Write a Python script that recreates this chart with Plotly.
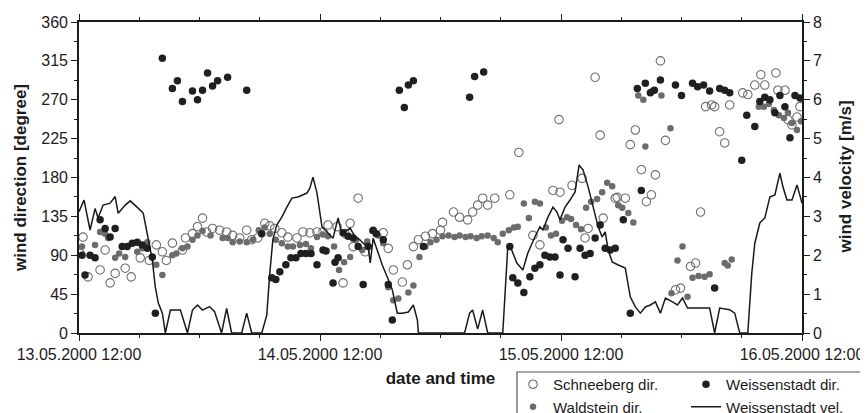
import pandas as pd
import plotly.graph_objects as go

START = pd.Timestamp("2000-05-13 12:00")

# ---- Weissenstadt wind velocity [m/s] (hours after 13.05.2000 12:00) ----
vel_hours = [0.0, 0.5, 1.1, 1.6, 1.9, 2.4, 3.1, 3.6, 3.9, 4.6, 5.1, 5.6, 6.1, 6.4, 6.8, 7.3, 7.6, 7.9, 8.3, 8.6,
             9.1, 10.1, 10.8, 11.3, 11.8, 12.3, 13.0, 13.5, 14.2, 14.7, 15.2, 16.2, 16.7, 17.2, 18.2, 18.7,
             19.0, 19.3, 19.7, 20.2, 20.7, 21.2, 21.8, 22.2, 22.7, 23.0, 23.3, 23.7, 24.2, 24.7, 25.3, 25.8,
             26.2, 26.5, 27.0, 27.5, 28.0, 28.3, 28.8, 29.0, 29.3, 29.7, 30.2, 30.7, 31.2, 31.7, 32.2, 32.8,
             33.3, 33.7, 33.8, 38.4, 38.9, 39.2, 39.7, 40.2, 40.7, 42.2, 42.7, 43.1, 43.6, 44.2, 44.7, 45.4,
             45.9, 46.2, 46.7, 47.2, 47.6, 47.9, 48.4, 48.9, 49.4, 49.8, 50.2, 50.7, 51.2, 51.7, 52.1, 52.4,
             52.7, 53.1, 53.7, 54.4, 54.9, 55.4, 55.9, 56.4, 56.9, 57.4, 57.9, 58.4, 59.1, 59.6, 60.1, 60.6,
             61.3, 62.0, 62.8, 63.3, 63.8, 64.8, 65.3, 65.8, 66.6, 67.0, 67.3, 67.8, 68.3, 68.8, 69.3, 69.8,
             70.1, 70.5, 71.0, 71.5, 72.0]
vel_ms = [3.12, 3.42, 2.65, 3.2, 2.96, 3.29, 3.34, 3.51, 3.08, 3.29, 3.40, 3.29, 3.16, 3.08, 2.57, 1.88, 1.18, 0.77, 0.51, 0.0,
          0.59, 0.59, 0.0, 0.59, 0.72, 0.59, 0.68, 0.55, 0.0, 0.63, 0.0, 0.0, 0.51, 0.0, 0.0, 0.46,
          1.54, 2.39, 2.78, 2.98, 3.24, 3.47, 3.5, 3.55, 3.6, 3.73, 4.01, 3.6, 2.73, 2.6, 2.44, 2.96,
          2.52, 2.6, 2.7, 2.47, 2.39, 2.31, 2.21, 1.80, 2.44, 2.13, 1.75, 1.44, 1.11, 0.51, 0.51, 0.54,
          0.72, 0.33, 0.0, 0.0, 0.51, 0.59, 0.1, 0.59, 0.0, 0.0, 2.21, 2.13, 1.80, 1.62, 2.06, 2.47,
          2.73, 2.65, 2.98, 3.24, 3.11, 2.91, 3.24, 3.42, 3.63, 4.32, 4.19, 3.76, 3.24, 2.73, 2.47, 2.60,
          2.13, 1.83, 1.75, 1.67, 0.93, 0.67, 0.51, 0.67, 0.72, 0.80, 0.51, 0.90, 0.80, 0.72, 0.90, 0.64,
          0.64, 0.64, 0.64, 0.0, 0.64, 0.60, 0.51, 0.0, 0.0, 1.54, 2.31, 2.83, 2.96, 3.5, 3.55, 4.11,
          3.76, 3.42, 3.42, 3.81, 3.34]

# ---- Schneeberg wind direction [degree] ----
sch_hours = [0.1, 0.4, 0.9, 2.1, 2.6, 3.1, 3.6, 4.6, 5.2, 6.1, 7.0, 7.7, 8.3, 8.7, 9.3, 10.3, 10.6, 11.3, 11.8, 12.3,
             12.7, 13.3, 14.0, 14.7, 15.3, 16.0, 16.7, 17.2, 17.8, 18.5, 19.0, 19.5, 20.2, 20.8, 21.7, 22.3, 23.0,
             23.7, 24.3, 24.8, 25.7, 26.3, 26.5, 27.0, 27.3, 27.8, 28.5, 30.3, 30.8, 31.3, 32.2, 32.7, 33.3, 33.8,
             34.5, 35.2, 36.0, 36.2, 37.3, 37.9, 38.7, 39.2, 39.7, 40.2, 40.7, 41.4, 42.9, 43.8, 45.2, 45.9, 47.2,
             47.8, 47.9, 49.1, 50.1, 50.4, 50.7, 51.4, 51.9, 52.2, 53.4, 53.6, 54.4, 54.9, 55.4, 56.0, 56.5, 57.0,
             57.4, 57.9, 58.4, 59.4, 59.9, 60.9, 61.4, 61.9, 62.4, 63.0, 63.3, 63.8, 64.3, 64.8, 66.1, 66.6, 67.3,
             67.9, 68.3, 69.4, 69.6, 70.3, 70.6, 71.0, 71.5, 71.8]
sch_deg = [92, 111, 65, 73, 96, 58, 69, 75, 65, 87, 84, 102, 94, 84, 104, 96, 110, 115, 123, 133,
           117, 121, 119, 117, 113, 110, 119, 108, 110, 127, 124, 121, 116, 111, 110, 117, 116,
           117, 117, 125, 123, 58, 115, 127, 100, 156, 94, 116, 98, 73, 59, 79, 100, 108,
           112, 115, 119, 128, 140, 134, 131, 140, 148, 156, 148, 156, 160, 209, 113, 102, 165,
           247, 163, 171, 179, 110, 121, 296, 229, 133, 156, 157, 156, 218, 235, 189, 152, 160,
           183, 315, 223, 50, 52, 77, 81, 140, 262, 264, 262, 233, 220, 264, 278, 276, 287,
           299, 287, 301, 281, 281, 247, 241, 250, 262]

# ---- Waldstein wind direction [degree] ----
wal_hours = [0.3, 1.6, 2.1, 2.6, 2.9, 3.6, 4.0, 4.6, 5.8, 6.3, 6.8, 7.7, 8.3, 9.3, 9.7, 10.3, 10.8, 11.3, 11.8, 12.3,
             13.1, 14.3, 14.8, 15.3, 16.0, 16.7, 17.3, 17.9, 18.5, 19.0, 19.6, 20.2, 20.8, 21.3, 22.0, 22.6, 23.1,
             23.7, 24.3, 24.8, 25.4, 25.9, 26.4, 27.0, 27.6, 28.2, 28.7, 29.2, 29.8, 30.3, 30.8, 31.3, 31.8, 32.8,
             33.3, 33.9, 34.5, 35.0, 35.6, 36.2, 36.8, 37.4, 37.9, 38.5, 39.0, 39.6, 40.1, 40.7, 41.3, 41.7, 42.2,
             42.8, 43.3, 43.7, 44.3, 44.8, 45.4, 45.9, 46.5, 47.0, 47.5, 48.1, 48.6, 49.0, 49.5, 50.0, 50.5, 51.0,
             51.6, 52.1, 52.6, 53.1, 53.7, 54.1, 54.7, 55.2, 55.7, 56.2, 56.4, 57.1, 58.0, 58.9, 59.0, 59.6, 60.1,
             60.6, 61.1, 61.7, 62.3, 62.8, 64.3, 64.6, 65.0, 67.7, 68.2, 68.7, 69.2, 69.7, 70.2, 70.6, 71.0, 71.5,
             71.9]
wal_deg = [100, 102, 117, 115, 110, 87, 92, 88, 94, 98, 105, 79, 67, 90, 92, 98, 100, 108, 113, 118,
           113, 110, 110, 105, 106, 105, 108, 119, 122, 115, 108, 104, 100, 100, 102, 103, 98,
           111, 114, 112, 100, 73, 82, 88, 108, 96, 106, 118, 113, 104, 53, 38, 40, 47,
           55, 88, 100, 105, 108, 112, 113, 111, 113, 111, 112, 110, 112, 113, 110, 105, 115,
           119, 122, 123, 150, 133, 152, 150, 122, 113, 115, 130, 134, 132, 125, 120, 145, 152,
           155, 163, 174, 170, 148, 145, 139, 128, 275, 270, 216, 280, 275, 237, 46, 84, 100,
           42, 64, 66, 65, 68, 81, 78, 85, 262, 262, 265, 258, 252, 249, 255, 243, 235,
           245]

# ---- Weissenstadt wind direction [degree] ----
wei_hours = [0.3, 0.6, 1.1, 1.6, 2.1, 2.6, 3.1, 3.6, 4.3, 4.8, 5.3, 5.8, 6.3, 6.8, 7.3, 7.6, 8.3, 9.3, 9.8, 10.3,
             11.3, 11.8, 12.3, 12.8, 13.3, 13.8, 14.8, 16.7, 18.2, 19.2, 19.6, 20.0, 20.6, 21.1, 21.6, 22.1, 22.6,
             23.1, 23.7, 24.3, 24.6, 25.3, 25.5, 25.8, 26.3, 26.8, 27.3, 27.8, 28.3, 28.8, 29.3, 29.6, 30.3, 30.8,
             31.2, 31.9, 32.4, 32.8, 33.3, 34.3, 38.9, 39.4, 40.3, 42.9, 43.2, 43.7, 44.3, 44.9, 45.4, 45.9, 46.4,
             46.9, 47.4, 47.9, 48.2, 48.7, 49.4, 49.9, 50.4, 50.9, 51.4, 51.9, 52.4, 52.9, 53.4, 54.2, 54.9, 55.6,
             56.0, 56.4, 56.9, 57.3, 57.9, 59.4, 60.0, 61.1, 61.6, 62.2, 62.8, 63.3, 63.8, 64.3, 64.8, 66.0, 66.5,
             67.3, 67.8, 68.3, 68.8, 69.3, 69.8, 70.3, 70.8, 71.3, 71.8]
wei_deg = [90, 67, 90, 87, 131, 121, 111, 121, 100, 100, 104, 105, 102, 98, 88, 23, 318, 283, 292, 268,
           280, 270, 281, 301, 286, 292, 296, 281, 115, 64, 62, 71, 79, 87, 87, 92, 92,
           92, 79, 96, 95, 58, 82, 87, 116, 112, 110, 100, 56, 100, 119, 115, 108, 56,
           15, 281, 261, 287, 292, 100, 273, 297, 302, 100, 64, 58, 47, 65, 75, 79, 90,
           88, 88, 67, 108, 98, 65, 98, 90, 92, 110, 125, 98, 96, 98, 131, 23, 283,
           165, 289, 278, 281, 293, 287, 275, 289, 285, 287, 280, 52, 283, 281, 278, 200, 252,
           239, 268, 273, 270, 255, 275, 262, 226, 275, 272]

# ---- axis ticks ----
tick_hours = [0, 12, 24, 36, 48, 60, 72]
tick_labels = ["13.05.2000 12:00", "", "14.05.2000 12:00", "", "15.05.2000 12:00", "", "16.05.2000 12:00"]
minor_hours = list(range(0, 73, 6))


def to_time(hours):
    return START + pd.to_timedelta(hours, unit="h")


INK = "#1c1c1c"
FONT = "Liberation Sans, Arial, sans-serif"

# the page body has an 8px margin, so the figure is drawn 8px smaller than the window
FIG_W, FIG_H = 860, 405

fig = go.Figure()
fig.add_trace(go.Scatter(
    x=to_time(sch_hours), y=sch_deg, mode="markers", name="Schneeberg dir.",
    marker=dict(symbol="circle-open", size=8.5, color="#707070", line=dict(width=1.1)),
    legend="legend",
))
fig.add_trace(go.Scatter(
    x=to_time(wal_hours), y=wal_deg, mode="markers", name="Waldstein dir.",
    marker=dict(symbol="circle", size=6.5, color="#6c6c6c"),
    legend="legend",
))
fig.add_trace(go.Scatter(
    x=to_time(wei_hours), y=wei_deg, mode="markers", name="Weissenstadt dir.",
    marker=dict(symbol="circle", size=7.5, color="#202020"),
    legend="legend2",
))
fig.add_trace(go.Scatter(
    x=to_time(vel_hours), y=vel_ms, mode="lines", name="Weissenstadt vel.",
    line=dict(color="#1a1a1a", width=1.5),
    yaxis="y2", legend="legend2",
))

axis_common = dict(
    showline=True, linecolor=INK, linewidth=1.6, ticks="outside", ticklen=6, tickwidth=1.4,
    tickcolor=INK, showgrid=False, zeroline=False,
    tickfont=dict(family=FONT, size=16, color=INK),
)

fig.update_layout(
    width=FIG_W, height=FIG_H,
    margin=dict(l=71, r=66, t=14, b=80, autoexpand=False),
    paper_bgcolor="white", plot_bgcolor="white",
    font=dict(family=FONT, color=INK),
    xaxis=dict(
        **axis_common,
        type="date",
        range=[to_time(0), to_time(72)],
        tickmode="array", tickvals=to_time(tick_hours), ticktext=tick_labels,
        mirror="ticks",
        minor=dict(tickmode="array", tickvals=to_time(minor_hours), ticks="outside",
                   ticklen=3, tickwidth=1.2, tickcolor=INK),
        title=dict(text="<b>date and time</b>", font=dict(family=FONT, size=17, color=INK), standoff=10),
    ),
    yaxis=dict(
        **axis_common,
        range=[0, 360], tickmode="linear", tick0=0, dtick=45,
        minor=dict(dtick=22.5, ticks="outside", ticklen=3, tickwidth=1.2, tickcolor=INK),
        title=dict(text="<b>wind direction [degree]</b>", font=dict(family=FONT, size=17, color=INK), standoff=10),
    ),
    yaxis2=dict(
        **axis_common,
        overlaying="y", side="right",
        range=[0, 8], tickmode="linear", tick0=0, dtick=1,
        minor=dict(dtick=0.5, ticks="outside", ticklen=3, tickwidth=1.2, tickcolor=INK),
    ),
    annotations=[dict(
        text="<b>wind velocity [m/s]</b>", textangle=-90,
        xref="paper", yref="paper", x=(845 - 79) / 723, y=0.5,
        xanchor="center", yanchor="middle", showarrow=False,
        font=dict(family=FONT, size=17, color=INK),
    )],
    legend=dict(
        xref="container", yref="container", x=505 / FIG_W, y=1 - 360 / FIG_H,
        xanchor="left", yanchor="top", orientation="v",
        font=dict(family=FONT, size=15, color=INK), bgcolor="rgba(0,0,0,0)",
        borderwidth=0, tracegroupgap=0,
    ),
    legend2=dict(
        xref="container", yref="container", x=678 / FIG_W, y=1 - 360 / FIG_H,
        xanchor="left", yanchor="top", orientation="v",
        font=dict(family=FONT, size=15, color=INK), bgcolor="rgba(0,0,0,0)",
        borderwidth=0, tracegroupgap=0,
    ),
    shapes=[dict(
        type="rect", xref="paper", yref="paper",
        x0=(517 - 79) / 723, x1=(880 - 79) / 723,
        y0=(333 - 372) / 311, y1=(333 - 430) / 311,
        line=dict(color="#555555", width=1.2), fillcolor="rgba(0,0,0,0)", layer="above",
    )],
    showlegend=True,
)

fig.write_html("out.html")
